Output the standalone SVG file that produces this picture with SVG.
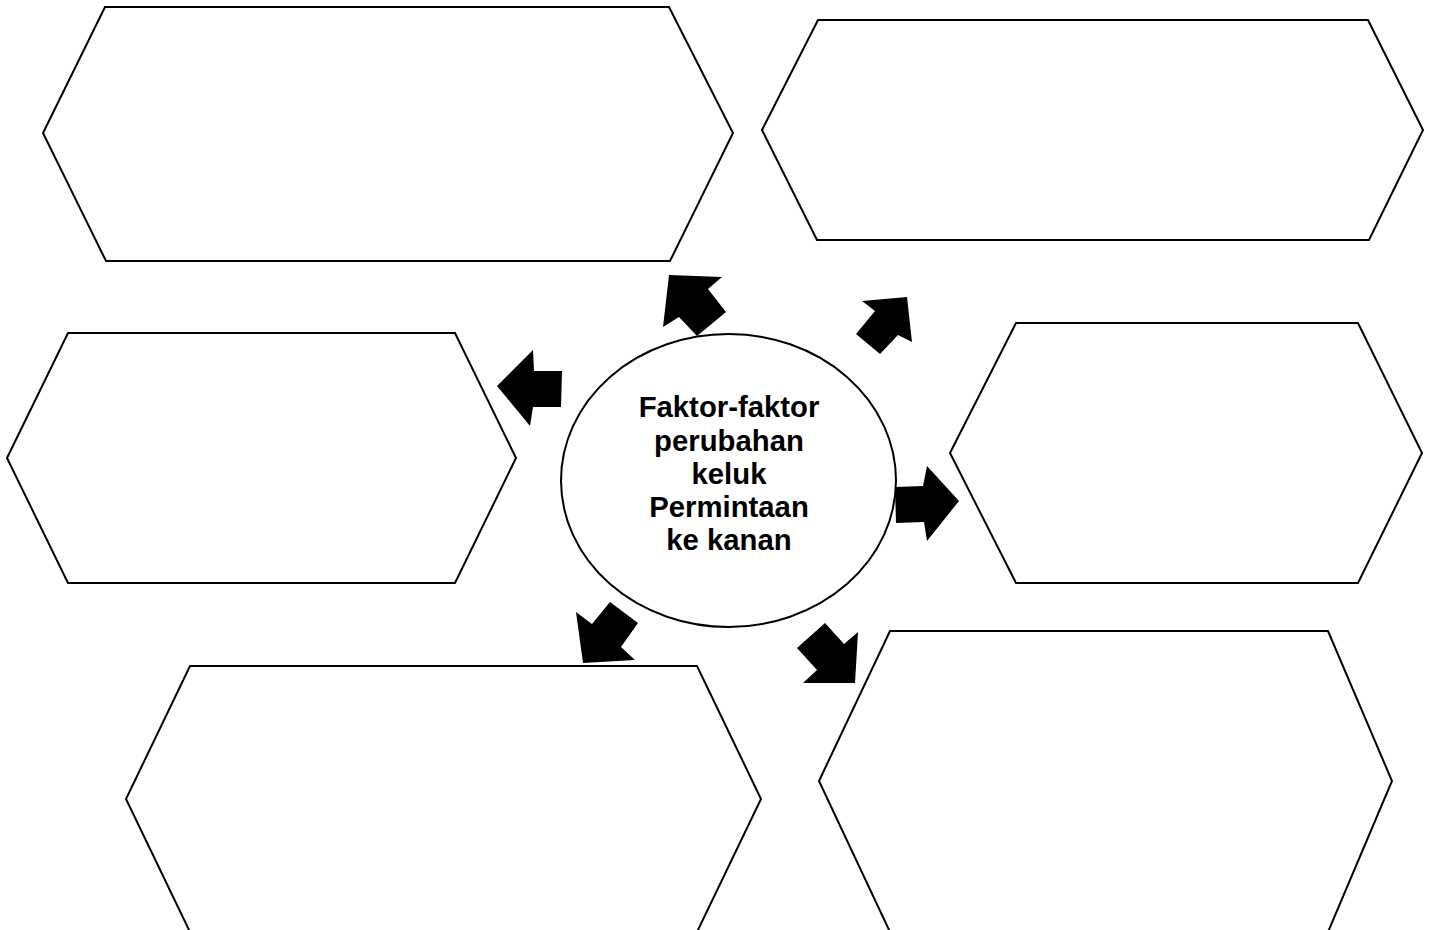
<svg xmlns="http://www.w3.org/2000/svg" width="1432" height="930" viewBox="0 0 1432 930">
<style>
.hex{fill:#fff;stroke:#000;stroke-width:2}
.arr{fill:#000;stroke:none}
.lbl{font-family:"Liberation Sans",Arial,sans-serif;font-weight:bold;font-size:29.3px;fill:#000;text-anchor:middle}
</style>
<rect width="1432" height="930" fill="#fff"/>
<g id="hex-top-left"><polygon class="hex" points="43,133 105,7 669,7 733,133 670,261 106,261"/></g>
<g id="hex-top-right"><polygon class="hex" points="762,130 818,20 1368,20 1423,130 1369,240 817,240"/></g>
<g id="hex-mid-left"><polygon class="hex" points="7,458 68,333 455,333 516,458 455,583 68,583"/></g>
<g id="hex-mid-right"><polygon class="hex" points="950,453 1016,323 1358,323 1422,453 1358,583 1016,583"/></g>
<g id="hex-bottom-left"><polygon class="hex" points="126,799 190,666 697,666 761,799 697,932 190,932"/></g>
<g id="hex-bottom-right"><polygon class="hex" points="819,781 890,631 1328,631 1392,781 1328,932 890,932"/></g>
<g id="connectors">
<polygon class="arr" points="669,275 722,277 708,289 726,312 697,336 679,317 663,327"/>
<polygon class="arr" points="907,297 912,342 898,335 880,354 856,334 875,311 862,301"/>
<polygon class="arr" points="497,386 533,350 534,371 562,371 561,407 533,407 530,426"/>
<polygon class="arr" points="959,501 927,541 924,522 896,523 895,487 923,486 927,466"/>
<polygon class="arr" points="583,663 576,612 592,624 610,602 638,623 621,647 635,660"/>
<polygon class="arr" points="855,683 803,683 817,670 797,648 825,623 844,644 858,632"/>
</g>
<g id="center">
<ellipse cx="728.5" cy="480.5" rx="167.5" ry="146.5" fill="#fff" stroke="#000" stroke-width="2"/>
<text class="lbl" x="729" y="417">Faktor-faktor</text>
<text class="lbl" x="729" y="451">perubahan</text>
<text class="lbl" x="729" y="484">keluk</text>
<text class="lbl" x="729" y="517">Permintaan</text>
<text class="lbl" x="729" y="550">ke kanan</text>
</g>
</svg>
